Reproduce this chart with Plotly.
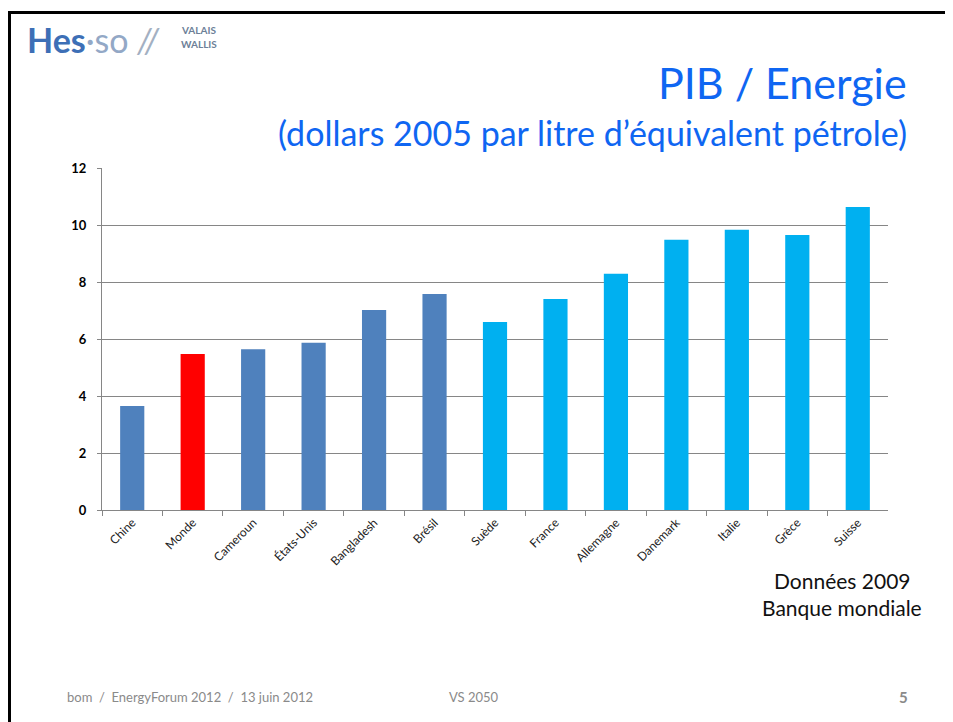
import plotly.graph_objects as go

# data (World Bank 2009, USD 2005 per litre oil equivalent)
pays = ["Chine", "Monde", "Cameroun", "États-Unis", "Bangladesh", "Brésil",
        "Suède", "France", "Allemagne", "Danemark", "Italie", "Grèce", "Suisse"]
pib_energie = [3.65, 5.47, 5.64, 5.87, 7.02, 7.58,
               6.60, 7.40, 8.29, 9.48, 9.83, 9.65, 10.63]
groupe = ["autre", "monde", "autre", "autre", "autre", "autre",
          "europe", "europe", "europe", "europe", "europe", "europe", "europe"]
couleurs = {"autre": "#4f81bd", "monde": "#ff0000", "europe": "#00b0f0"}
y_ticks = [0, 2, 4, 6, 8, 10, 12]

OFF = 8  # page body margin, positions below are screen pixels
W, H = 953 - OFF, 722 - OFF
FONT = "Lato"

def px(x):
    return (x - OFF) / W

def py(y):
    return 1 - (y - OFF) / H

fig = go.Figure(go.Bar(
    x=pays,
    y=pib_energie,
    marker=dict(color=[couleurs[g] for g in groupe], line=dict(width=0)),
    width=0.40,
    hoverinfo="x+y",
))

fig.update_layout(
    width=W, height=H,
    margin=dict(l=0, r=0, t=0, b=0, autoexpand=False),
    paper_bgcolor="white",
    plot_bgcolor="white",
    showlegend=False,
    font=dict(family=FONT, color="black"),
    xaxis=dict(
        domain=[px(102), px(888)],
        type="category",
        automargin=False,
        tickson="boundaries",
        ticks="outside", ticklen=5, tickcolor="#868686",
        showline=True, linecolor="#868686", linewidth=1,
        showgrid=False,
        tickangle=-45,
        tickfont=dict(size=12, color="#222222"),
    ),
    yaxis=dict(
        domain=[py(510), py(168)],
        range=[0, 12],
        automargin=False,
        tickvals=y_ticks,
        ticks="outside", ticklen=4, tickcolor="#868686",
        showline=True, linecolor="#868686", linewidth=1,
        gridcolor="#868686", gridwidth=1,
        zeroline=False,
        tickfont=dict(size=13, color="black", weight="bold"),
        ticklabelstandoff=8,
    ),
)

# slide frame
fig.add_shape(type="line", xref="paper", yref="paper",
              x0=0, x1=1, y0=py(12.5), y1=py(12.5),
              line=dict(color="black", width=3))
fig.add_shape(type="line", xref="paper", yref="paper",
              x0=px(9.5), x1=px(9.5), y0=py(12.5), y1=0,
              line=dict(color="black", width=3))

logo = ("<b>Hes</b><span style='color:#93a8c6'>·so</span>"
        "<span style='color:#a3b0c2'> <i>//</i></span>")

notes = [
    # logo
    dict(x=px(25), y=py(40), text=logo, size=34, color="#3d6fb6", xanchor="left"),
    dict(x=px(179), y=py(30), text="<b>VALAIS</b>", size=10, color="#6d7f98", xanchor="left"),
    dict(x=px(179), y=py(44), text="<b>WALLIS</b>", size=10, color="#6d7f98", xanchor="left"),
    # titles
    dict(x=px(909), y=py(83), text="PIB / Energie", size=43, color="#0f66f2", xanchor="right"),
    dict(x=px(909), y=py(132), text="(dollars 2005 par litre d’équivalent pétrole)",
         size=34, color="#0f66f2", xanchor="right"),
    # source
    dict(x=px(842), y=py(580), text="Données 2009", size=21, color="#111111", xanchor="center"),
    dict(x=px(842), y=py(607), text="Banque mondiale", size=21, color="#111111", xanchor="center"),
    # footer
    dict(x=px(65), y=py(697), text="bom  /  EnergyForum 2012  /  13 juin 2012", size=13,
         color="#8a8a8a", xanchor="left"),
    dict(x=px(447), y=py(697), text="VS 2050", size=13, color="#8a8a8a", xanchor="left"),
    dict(x=px(910), y=py(697), text="<b>5</b>", size=15, color="#8a8a8a", xanchor="right"),
]
for n in notes:
    fig.add_annotation(x=n["x"], y=n["y"], xref="paper", yref="paper",
                       text=n["text"], showarrow=False,
                       xanchor=n["xanchor"], yanchor="middle",
                       font=dict(family=FONT, size=n["size"], color=n["color"]))

fig.write_html("out.html")
